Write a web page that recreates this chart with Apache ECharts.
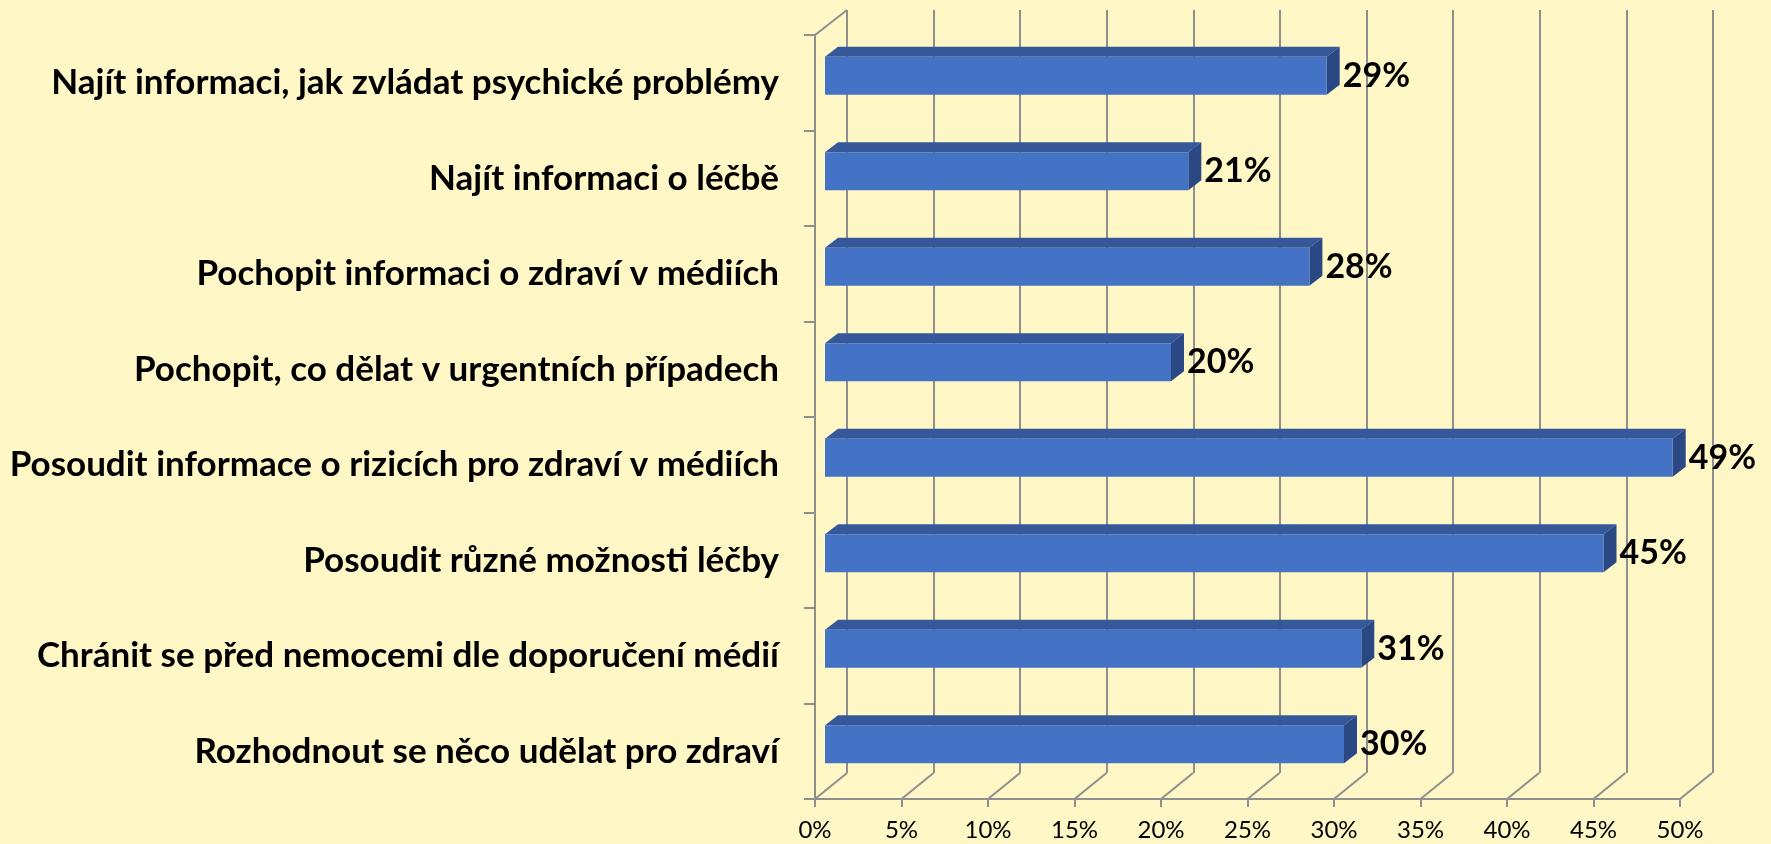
<!DOCTYPE html>
<html lang="cs">
<head>
<meta charset="utf-8" />
<title>Zdravotní gramotnost</title>
<style>
  html, body { margin: 0; padding: 0; background: #FFF7C5; }
  #chart { width: 1771px; height: 844px; }
</style>
</head>
<body>
<div id="chart"></div>
<script src="https://cdn.jsdelivr.net/npm/echarts@6/dist/echarts.min.js"></script>
<script>
// kategorie shora dolu
var categories = [
  'Najít informaci, jak zvládat psychické problémy',
  'Najít informaci o léčbě',
  'Pochopit informaci o zdraví v médiích',
  'Pochopit, co dělat v urgentních případech',
  'Posoudit informace o rizicích pro zdraví v médiích',
  'Posoudit různé možnosti léčby',
  'Chránit se před nemocemi dle doporučení médií',
  'Rozhodnout se něco udělat pro zdraví'
];
var values = [29, 21, 28, 20, 49, 45, 31, 30];
var ticks = [0, 5, 10, 15, 20, 25, 30, 35, 40, 45, 50];

var GRAY = '#8F8F8F';
var FONT = 'Lato';

var chart = echarts.init(document.getElementById('chart'));

// 3D sloupec: predni stena, horni a bocni plocha
function renderBar(params, api) {
  var cat = api.value(1);
  var start = api.coord([0, cat]);
  var end = api.coord([api.value(0), cat]);
  var band = api.size([0, 1])[1];
  var h = band * 0.4;
  var cy = start[1] - 7;
  var x0 = start[0] + 10, x1 = end[0] + 10;
  var yt = cy - h / 2, yb = cy + h / 2;
  var dx = 13, dy = 10;
  return {
    type: 'group',
    children: [
      { type: 'polygon', shape: { points: [[x0, yt], [x0 + dx, yt - dy], [x1 + dx, yt - dy], [x1, yt]] },
        style: { fill: '#34589A' } },
      { type: 'polygon', shape: { points: [[x1, yt], [x1 + dx, yt - dy], [x1 + dx, yb - dy], [x1, yb]] },
        style: { fill: '#2A4883' } },
      { type: 'rect', shape: { x: x0, y: yt, width: x1 - x0, height: h },
        style: { fill: '#4472C4' } },
      { type: 'text', x: x1 + 16, y: cy,
        style: { text: api.value(0) + '%', fill: '#000', font: 'bold 34px ' + FONT,
                 verticalAlign: 'middle', align: 'left' } }
    ]
  };
}

// sikme cary podlahy a horni hrana leve steny
function renderFloor(params, api) {
  var cs = params.coordSys;
  var x = api.coord([api.value(0), 0])[0];
  var yBot = cs.y + cs.height;
  var kids = [
    { type: 'line', shape: { x1: x, y1: yBot, x2: x + 32, y2: yBot - 26 },
      style: { stroke: GRAY, lineWidth: 2 } }
  ];
  if (api.value(0) === 0) {
    kids.push({ type: 'line', shape: { x1: x, y1: cs.y, x2: x + 32, y2: cs.y - 25 },
      style: { stroke: GRAY, lineWidth: 2 } });
  }
  return { type: 'group', children: kids };
}

var option = {
  backgroundColor: '#FFF7C5',
  animation: false,
  grid: [
    { left: 815, top: 35, width: 865, height: 764 },
    { left: 847, top: 10, width: 866, height: 763 }
  ],
  xAxis: [
    {
      gridIndex: 0, type: 'value', min: 0, max: 50, interval: 5,
      axisLine: { show: true, lineStyle: { color: GRAY, width: 2 } },
      axisTick: { show: true, length: 8, lineStyle: { color: GRAY, width: 2 } },
      axisLabel: { formatter: '{value}%', color: '#000', fontFamily: FONT, fontSize: 24, margin: 19 },
      splitLine: { show: false }
    },
    {
      gridIndex: 1, type: 'value', min: 0, max: 50, interval: 5,
      axisLine: { show: false }, axisTick: { show: false }, axisLabel: { show: false },
      splitLine: { show: true, lineStyle: { color: GRAY, width: 2 } }
    }
  ],
  yAxis: [
    {
      gridIndex: 0, type: 'category', inverse: true, data: categories,
      axisLine: { show: true, lineStyle: { color: GRAY, width: 2 } },
      axisTick: { show: true, length: 11, lineStyle: { color: GRAY, width: 2 } },
      axisLabel: { color: '#000', fontFamily: FONT, fontWeight: 'bold', fontSize: 35,
                   margin: 36, padding: [8, 0, 0, 0] }
    },
    { gridIndex: 1, type: 'value', show: false, min: 0, max: 1 }
  ],
  series: [
    {
      type: 'custom', name: 'podlaha', xAxisIndex: 0, yAxisIndex: 0,
      renderItem: renderFloor, silent: true, z: 1,
      data: ticks.map(function (t) { return [t, 0]; })
    },
    {
      type: 'custom', name: 'podil', xAxisIndex: 0, yAxisIndex: 0,
      renderItem: renderBar, z: 3,
      data: values.map(function (v, i) { return [v, i]; })
    }
  ]
};
chart.setOption(option);

window.onresize = function () {
  chart.resize();
};
</script>
</body>
</html>
